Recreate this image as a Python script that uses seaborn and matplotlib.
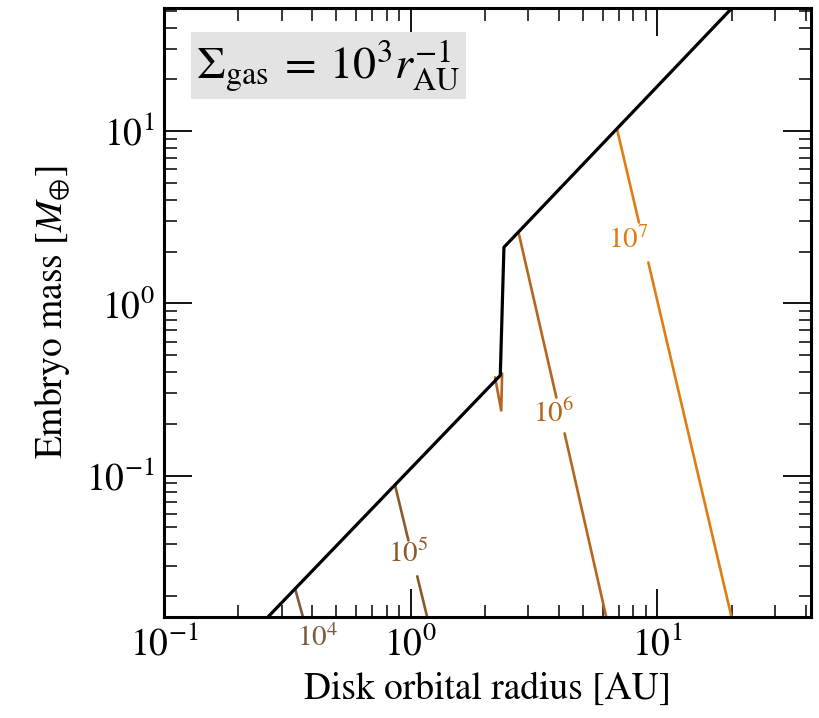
import numpy as np
import pandas as pd
import matplotlib
matplotlib.use("Agg")
import matplotlib.pyplot as plt
import seaborn as sns

# ---- data ----
iso_r = [0.264, 2.31, 2.39, 20.1]
iso_M = [0.0151, 0.382, 2.12, 52.0]

contour_levels = ["1e4", "1e5", "1e6", "1e7"]
contour_labels = [r"$10^4$", r"$10^5$", r"$10^6$", r"$10^7$"]
contour_colors = ["#7b5b3e", "#8c5a28", "#b4661e", "#e07c12"]

# segments per level: r lists and M lists
c4_r = [[0.340, 0.366]]
c4_M = [[0.0221, 0.0151]]
c5_r = [[0.865, 0.980], [1.064, 1.167]]
c5_M = [[0.0877, 0.042], [0.026, 0.0151]]
c6_r = [[2.75, 3.90], [4.21, 6.21], [2.20, 2.33, 2.35]]
c6_M = [[2.52, 0.284], [0.176, 0.0151], [0.372, 0.239, 0.392]]
c7_r = [[6.89, 8.43], [9.20, 20.0]]
c7_M = [[10.1, 2.95], [1.73, 0.0151]]

label_r = [0.421, 0.977, 3.79, 7.62]
label_M = [0.01135, 0.0353, 0.230, 2.32]

xlim = (0.1, 42.0)
ylim = (0.0151, 52.0)

# ---- build tables ----
rows = []
seg_id = 0
for lev, rr, mm in zip(contour_levels, [c4_r, c5_r, c6_r, c7_r], [c4_M, c5_M, c6_M, c7_M]):
    for r_seg, m_seg in zip(rr, mm):
        for r, m in zip(r_seg, m_seg):
            rows.append({"r": r, "M": m, "level": lev, "seg": seg_id})
        seg_id += 1
cont = pd.DataFrame(rows)
iso = pd.DataFrame({"r": iso_r, "M": iso_M})

# ---- style ----
sns.set_theme(style="ticks")
plt.rcParams["font.family"] = ["STIXGeneral", "DejaVu Serif"]
plt.rcParams["mathtext.fontset"] = "stix"
for k in ["text.color", "axes.labelcolor", "xtick.color", "ytick.color", "axes.edgecolor"]:
    plt.rcParams[k] = "black"
plt.rcParams["axes.linewidth"] = 2.2

fig = plt.figure(figsize=(8.19, 7.18), dpi=100)
ax = fig.add_axes([0.2002, 0.1407, 0.7900, 0.8482])
ax.set_xscale("log")
ax.set_yscale("log")

sns.lineplot(data=cont, x="r", y="M", hue="level", units="seg", estimator=None,
             sort=False, palette=dict(zip(contour_levels, contour_colors)),
             linewidth=1.9, legend=False, ax=ax)
sns.lineplot(data=iso, x="r", y="M", color="black", linewidth=2.3,
             sort=False, estimator=None, ax=ax)

for lab, lr, lm, col in zip(contour_labels, label_r, label_M, contour_colors):
    ax.text(lr, lm, lab, color=col, fontsize=21, ha="center", va="center",
            clip_on=False)

ax.text(0.050, 0.905, r"$\Sigma_{\rm gas}\:=\:10^3 r_{\rm AU}^{-1}$",
        transform=ax.transAxes, fontsize=33, ha="left", va="center",
        bbox=dict(facecolor="#e3e3e3", edgecolor="none", boxstyle="square,pad=0.12"))

ax.set_xlim(*xlim)
ax.set_ylim(*ylim)
ax.set_xlabel("Disk orbital radius [AU]", fontsize=27, labelpad=6)
ax.set_ylabel(r"Embryo mass [$M_{\oplus}$]", fontsize=27, labelpad=10)

ax.tick_params(which="both", direction="in", top=True, right=True, color="black")
ax.tick_params(which="major", length=20, width=1.3, labelsize=27, pad=7)
ax.tick_params(which="minor", length=9, width=1.1)
ax.xaxis.set_major_locator(matplotlib.ticker.LogLocator(base=10, numticks=10))
ax.xaxis.set_minor_locator(matplotlib.ticker.LogLocator(base=10, subs=np.arange(2, 10), numticks=20))
ax.yaxis.set_minor_locator(matplotlib.ticker.LogLocator(base=10, subs=np.arange(2, 10), numticks=20))
ax.xaxis.set_minor_formatter(matplotlib.ticker.NullFormatter())
ax.yaxis.set_minor_formatter(matplotlib.ticker.NullFormatter())
for s in ax.spines.values():
    s.set_visible(True)
    s.set_linewidth(2.2)
    s.set_color("black")

fig.savefig("out.png", dpi=100)
